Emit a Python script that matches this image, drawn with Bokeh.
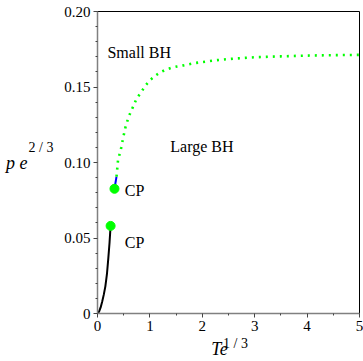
from bokeh.plotting import figure
from bokeh.models import Range1d, FixedTicker, Label, LinearAxis
from bokeh.embed import file_html
from bokeh.resources import INLINE

# ---- data ----
small_T = [0.0, 0.03, 0.06, 0.09, 0.12, 0.15, 0.18, 0.205, 0.23, 0.25]
small_p = [0.0, 0.0012, 0.004, 0.008, 0.0125, 0.018, 0.026, 0.036, 0.047, 0.058]

blue_T = [0.324, 0.363]
blue_p = [0.0826, 0.0907]

large_T = [0.363, 0.391, 0.452, 0.49, 0.534, 0.597, 0.662, 0.744, 0.834, 0.916,
           1.011, 1.107, 1.202, 1.298, 1.406, 1.52, 1.64, 1.85, 2.25, 2.6,
           3.0, 3.5, 4.0, 4.5, 5.0]
large_p = [0.0907, 0.1013, 0.1097, 0.1164, 0.1234, 0.1305, 0.1356, 0.1422, 0.1466, 0.151,
           0.1548, 0.1576, 0.1598, 0.1614, 0.1627, 0.1636, 0.1643, 0.1658, 0.1677, 0.1688,
           0.1697, 0.1703, 0.1708, 0.1711, 0.1713]

cp_T = [0.25, 0.324]
cp_p = [0.058, 0.0826]

x_ticks = [0, 1, 2, 3, 4, 5]
x_minor = [0.5, 1.5, 2.5, 3.5, 4.5]
y_ticks = [0, 0.05, 0.10, 0.15, 0.20]
y_tick_labels = ["0", "0.05", "0.10", "0.15", "0.20"]
y_minor = [0.01, 0.02, 0.03, 0.04, 0.06, 0.07, 0.08, 0.09, 0.11, 0.12, 0.13, 0.14,
           0.16, 0.17, 0.18, 0.19]

FONT = "Liberation Serif"
NB = "\u00a0"

p = figure(width=363, height=361, output_backend="svg", toolbar_location=None,
           x_range=Range1d(0, 5), y_range=Range1d(0, 0.2),
           min_border_left=97, min_border_right=4, min_border_top=11, min_border_bottom=48)
p.background_fill_color = "white"
p.border_fill_color = "white"
p.outline_line_color = "black"
p.outline_line_width = 1
p.xgrid.visible = False
p.ygrid.visible = False

for ax in (p.xaxis[0], p.yaxis[0]):
    ax.axis_line_color = "#808080"
    ax.axis_line_width = 1.5
    ax.major_tick_line_color = "#444444"
    ax.minor_tick_line_color = "#444444"
    ax.major_tick_in = 0
    ax.major_tick_out = 4
    ax.minor_tick_in = 0
    ax.minor_tick_out = 2
    ax.major_label_text_font = FONT
    ax.major_label_text_font_size = "15px"
    ax.major_label_text_color = "black"

p.xaxis.ticker = FixedTicker(ticks=x_ticks, minor_ticks=x_minor)
p.yaxis.ticker = FixedTicker(ticks=y_ticks, minor_ticks=y_minor)
p.yaxis.major_label_overrides = {t: s for t, s in zip(y_ticks, y_tick_labels)}
p.xaxis.major_label_standoff = 3
p.yaxis.major_label_standoff = 3

p.line(small_T, small_p, line_color="black", line_width=2)
p.line(blue_T, blue_p, line_color="blue", line_width=2)
p.line(large_T, large_p, line_color="#00ff00", line_width=2.6, line_dash="2 5")
p.scatter(cp_T, cp_p, size=9, fill_color="#00ff00", line_color="#00ff00")

def lab(x, y, text):
    p.add_layout(Label(x=x, y=y, text=text, text_font=FONT, text_font_size="16px",
                       text_color="black", text_baseline="alphabetic", text_align="left"))

lab(0.19, 0.1728, "Small BH")
lab(1.39, 0.1106, "Large BH")
lab(0.52, 0.0815, "CP")
lab(0.52, 0.0472, "CP")

# axis-title pieces as label-only axes
def title_axis(text, size, style, standoff, place, horizontal=False, line_height=1.2):
    ax = LinearAxis(ticker=FixedTicker(ticks=[]),
                    axis_line_color=None, major_tick_line_color=None,
                    minor_tick_line_color=None, major_tick_out=0, major_tick_in=0,
                    minor_tick_out=0, minor_tick_in=0, major_label_standoff=0,
                    axis_label=text, axis_label_standoff=standoff,
                    axis_label_text_font=FONT, axis_label_text_font_size=size,
                    axis_label_text_font_style=style, axis_label_text_color="black",
                    axis_label_text_line_height=line_height)
    if horizontal:
        ax.axis_label_orientation = "horizontal"
    p.add_layout(ax, place)

title_axis("2 / 3\n" + NB, "14px", "normal", 8, "left", True, line_height=2.0)
title_axis("p e", "18px", "italic", -2, "left", True)
title_axis(NB * 4 + "1 / 3", "14px", "normal", 2, "below")
title_axis("Te" + NB * 4, "18px", "italic", -15, "below")

open("out.html", "w").write(file_html(p, INLINE))
